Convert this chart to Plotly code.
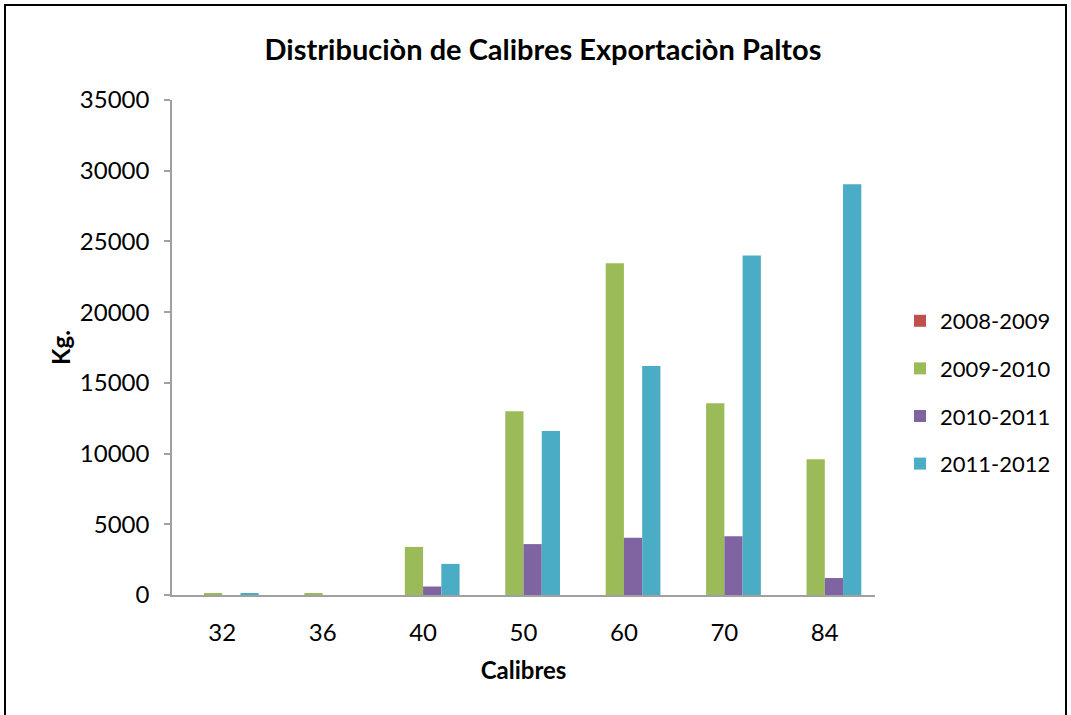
import plotly.graph_objects as go

categories = ["32", "36", "40", "50", "60", "70", "84"]
series_names = ["2008-2009", "2009-2010", "2010-2011", "2011-2012"]
s2008_2009 = [0, 0, 0, 0, 0, 0, 0]
s2009_2010 = [100, 100, 3400, 13000, 23450, 13550, 9600]
s2010_2011 = [0, 0, 600, 3600, 4050, 4150, 1200]
s2011_2012 = [100, 0, 2200, 11600, 16200, 24000, 29050]
y_ticks = [0, 5000, 10000, 15000, 20000, 25000, 30000, 35000]

colors = ["#C0504D", "#9BBB59", "#8064A2", "#4BACC6"]
FONT = "Lato"

fig = go.Figure()
for i, (name, vals) in enumerate(zip(series_names, [s2008_2009, s2009_2010, s2010_2011, s2011_2012])):
    fig.add_trace(go.Bar(
        x=categories, y=vals, name=name, legendgroup=name,
        marker=dict(color=colors[i], line=dict(width=0)),
    ))

W, H = 1071, 715
L, R, T, B = 172, 196, 100, 120
pw, ph = W - L - R, H - T - B

def px(x):
    return (x - L) / pw

def py(y):
    return (H - B - y) / ph

fig.update_layout(
    width=W, height=H,
    paper_bgcolor="white", plot_bgcolor="white",
    margin=dict(l=L, r=R, t=T, b=B, autoexpand=False),
    barmode="group", bargap=0.273, bargroupgap=0,
    font=dict(family=FONT, color="#000000", size=24),
    title=dict(text="<b>Distribuciòn de Calibres Exportaciòn Paltos</b>",
               x=(543) / W, xanchor="center", y=1 - 50 / H, yanchor="middle",
               font=dict(family=FONT, size=29, color="#000000")),
    xaxis=dict(
        type="category", showline=True, linecolor="#A0A0A0", linewidth=1.5,
        ticks="", showgrid=False, zeroline=False, ticklabelstandoff=15,
        tickfont=dict(family=FONT, size=24, color="#000000"),
        title=dict(text="<b>Calibres</b>", font=dict(family=FONT, size=24, color="#000000"), standoff=18),
    ),
    yaxis=dict(
        range=[0, 35000], tickvals=y_ticks, ticktext=[str(v) for v in y_ticks],
        showline=True, linecolor="#A0A0A0", linewidth=1.5,
        ticks="outside", ticklen=6, tickcolor="#A0A0A0", tickwidth=1.5,
        showgrid=False, zeroline=False, ticklabelstandoff=10,
        tickfont=dict(family=FONT, size=24, color="#000000"),
        title=dict(text="<b>Kg.</b>", font=dict(family=FONT, size=24, color="#000000"), standoff=2),
    ),
    legend=dict(
        x=px(900), xanchor="left", y=py(300), yanchor="top",
        font=dict(family=FONT, size=22, color="#000000"),
        tracegroupgap=16, itemwidth=30, bgcolor="rgba(0,0,0,0)",
        traceorder="grouped",
    ),
    shapes=[
        dict(type="rect", xref="paper", yref="paper",
             x0=px(5), x1=px(1066), y0=py(740), y1=py(5),
             line=dict(color="#000000", width=2), fillcolor="rgba(0,0,0,0)", layer="above"),
    ],
)

fig.write_html("out.html", config={"displayModeBar": False},
               post_script="document.body.style.margin='0';")
